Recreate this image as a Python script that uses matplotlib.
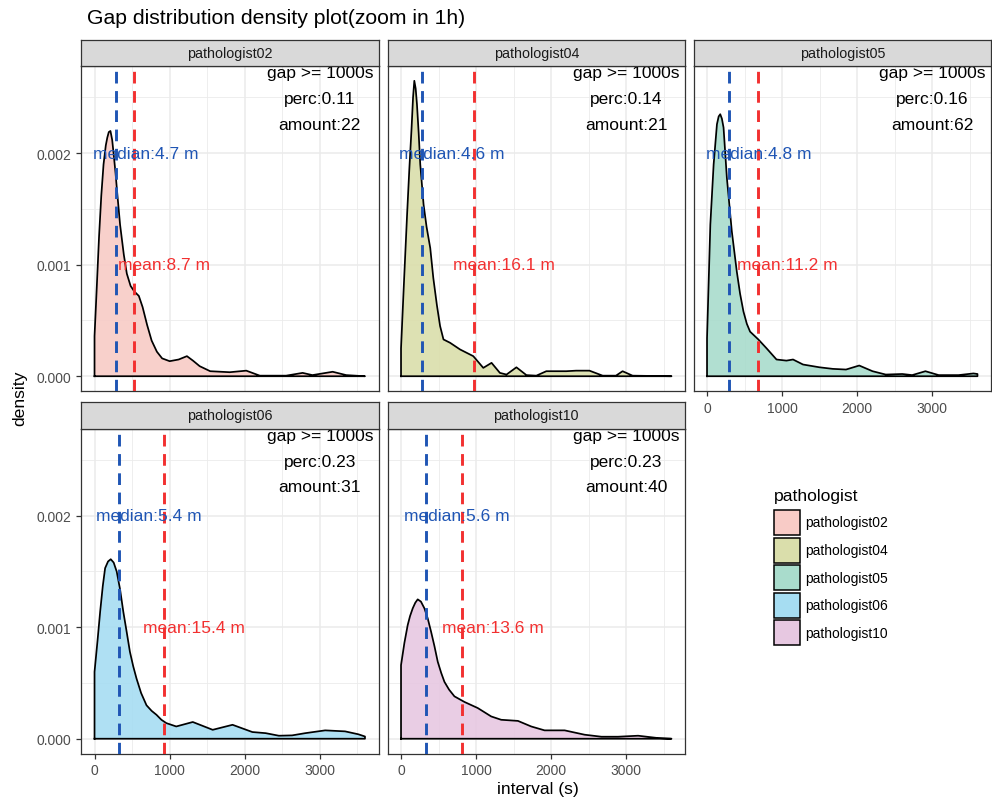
import matplotlib
matplotlib.use('Agg')
import matplotlib.pyplot as plt
from matplotlib.patches import Rectangle

plt.rcParams['font.family'] = ['Liberation Sans', 'DejaVu Sans']

# pathologists and summary stats (minutes)
names = ['pathologist02', 'pathologist04', 'pathologist05', 'pathologist06', 'pathologist10']
colors = ['#F8CBC6', '#DADEAB', '#A9DCCC', '#A6DDF2', '#E7C8E1']
median_min = [4.7, 4.6, 4.8, 5.4, 5.6]
mean_min = [8.7, 16.1, 11.2, 15.4, 13.6]
perc = [0.11, 0.14, 0.16, 0.23, 0.23]
amount = [22, 21, 62, 31, 40]

# density curves (x in s, density in 1e-3)
p02_x = [0, 30, 60, 90, 120, 150, 170, 190, 212, 235, 255, 280, 300, 340, 390, 430, 480, 530,
         590, 640, 700, 760, 830, 900, 1000, 1120, 1230, 1310, 1400, 1540, 1800, 2020, 2200,
         2550, 2770, 2900, 3170, 3350, 3600]
p02_y = [0.36, 0.80, 1.25, 1.62, 1.90, 2.07, 2.14, 2.19, 2.20, 2.12, 1.99, 1.82, 1.66, 1.36,
         1.09, 0.92, 0.81, 0.76, 0.72, 0.62, 0.46, 0.32, 0.22, 0.16, 0.135, 0.15, 0.18, 0.14,
         0.09, 0.045, 0.036, 0.05, 0.005, 0.005, 0.03, 0.01, 0.04, 0.01, 0.0]

p04_x = [0, 35, 80, 110, 140, 160, 177, 195, 212, 235, 256, 300, 340, 389, 430, 477, 520, 565,
         653, 786, 962, 1095, 1205, 1316, 1404, 1536, 1669, 1801, 1934, 2199, 2331, 2508, 2684,
         2861, 2949, 3082, 3600]
p04_y = [0.25, 0.78, 1.44, 1.85, 2.22, 2.50, 2.65, 2.58, 2.44, 2.18, 1.90, 1.54, 1.34, 1.15,
         0.88, 0.64, 0.45, 0.33, 0.30, 0.24, 0.18, 0.075, 0.12, 0.03, 0.015, 0.08, 0.01, 0.005,
         0.045, 0.045, 0.05, 0.05, 0.005, 0.005, 0.045, 0.005, 0.0]

p05_x = [0, 44, 88, 132, 155, 176, 198, 220, 264, 330, 396, 440, 485, 530, 573, 683, 793, 925,
         1057, 1145, 1278, 1498, 1674, 1850, 2026, 2203, 2379, 2599, 2731, 2907, 3084, 3348,
         3546, 3600]
p05_y = [0.34, 1.36, 1.90, 2.26, 2.33, 2.35, 2.31, 2.23, 1.78, 1.30, 0.94, 0.74, 0.58, 0.47,
         0.40, 0.33, 0.25, 0.15, 0.14, 0.15, 0.105, 0.08, 0.066, 0.06, 0.096, 0.045, 0.015,
         0.02, 0.01, 0.045, 0.01, 0.01, 0.025, 0.02]

p06_x = [0, 40, 75, 110, 141, 180, 216, 255, 295, 340, 383, 430, 471, 515, 559, 620, 692, 760,
         824, 890, 956, 1088, 1308, 1573, 1837, 2101, 2278, 2454, 2630, 2806, 3070, 3335, 3511,
         3600]
p06_y = [0.60, 0.88, 1.14, 1.37, 1.53, 1.59, 1.61, 1.58, 1.50, 1.34, 1.14, 0.95, 0.78, 0.65,
         0.54, 0.41, 0.30, 0.25, 0.215, 0.17, 0.14, 0.11, 0.15, 0.08, 0.125, 0.06, 0.05, 0.027,
         0.03, 0.05, 0.075, 0.066, 0.04, 0.02]

p10_x = [0, 45, 89, 120, 156, 190, 222, 265, 311, 355, 400, 445, 489, 535, 578, 640, 711, 844,
         1022, 1200, 1333, 1556, 1733, 1911, 2178, 2444, 2667, 2889, 3156, 3422, 3600]
p10_y = [0.66, 0.86, 1.02, 1.10, 1.17, 1.22, 1.25, 1.23, 1.17, 1.08, 0.96, 0.83, 0.69, 0.59,
         0.51, 0.44, 0.38, 0.33, 0.275, 0.20, 0.17, 0.16, 0.11, 0.075, 0.075, 0.036, 0.018,
         0.018, 0.027, 0.006, 0.0]

curves_x = [p02_x, p04_x, p05_x, p06_x, p10_x]
curves_y = [p02_y, p04_y, p05_y, p06_y, p10_y]

median_col = '#1F55B4'
mean_col = '#F23030'

W, H = 992, 803
fig = plt.figure(figsize=(W / 100, H / 100), dpi=100)


def px_axes(l, t, w, h):
    return fig.add_axes([l / W, 1 - (t + h) / H, w / W, h / H])


col_left = [81, 387.5, 693.5]
pw = 297.5
strip_top = [40.5, 403]
strip_h = 26.5
ph = 325

for i, name in enumerate(names):
    r, c = divmod(i, 3)
    ax = px_axes(col_left[c], strip_top[r] + strip_h, pw, ph)
    st = px_axes(col_left[c], strip_top[r], pw, strip_h)

    xs = curves_x[i]
    ys = [v * 1e-3 for v in curves_y[i]]
    ax.fill([xs[0]] + xs + [xs[-1]], [0] + ys + [0], facecolor=colors[i], alpha=0.9,
            edgecolor='none', zorder=2)
    ax.plot([xs[0]] + xs + [xs[-1], xs[0]], [0] + ys + [0, 0], color='black', lw=1.25,
            zorder=3, solid_joinstyle='round')

    med = median_min[i] * 60
    mn = mean_min[i] * 60
    ax.axvline(med, color=median_col, lw=2.1, ls=(0, (4, 2.6)), zorder=4)
    ax.axvline(mn, color=mean_col, lw=2.1, ls=(0, (4, 2.6)), zorder=4)
    ax.text(med + 400, 0.002, 'median:%.1f m' % median_min[i], color=median_col,
            ha='center', va='center', fontsize=12.5, zorder=5)
    ax.text(mn + 400, 0.001, 'mean:%.1f m' % mean_min[i], color=mean_col,
            ha='center', va='center', fontsize=12.5, zorder=5)
    ax.text(3000, 0.00272, 'gap >= 1000s', ha='center', va='center', fontsize=12.5, zorder=5)
    ax.text(3000, 0.00249, 'perc:%.2f' % perc[i], ha='center', va='center', fontsize=12.5, zorder=5)
    ax.text(3000, 0.00226, 'amount:%d' % amount[i], ha='center', va='center', fontsize=12.5, zorder=5)

    ax.set_xlim(-180, 3780)
    ax.set_ylim(-0.0001325, 0.0027825)
    ax.set_xticks([0, 1000, 2000, 3000])
    ax.set_xticks([500, 1500, 2500, 3500], minor=True)
    ax.set_yticks([0, 0.001, 0.002])
    ax.set_yticklabels(['0.000', '0.001', '0.002'])
    ax.set_yticks([0.0005, 0.0015, 0.0025], minor=True)
    ax.grid(which='major', color='#EBEBEB', lw=1.1)
    ax.grid(which='minor', color='#EBEBEB', lw=0.6)
    ax.set_axisbelow(True)
    for s in ax.spines.values():
        s.set_color('#333333')
        s.set_linewidth(0.9)
    ax.tick_params(which='major', direction='out', length=3.5, width=0.9, color='#333333',
                   labelcolor='#4D4D4D', labelsize=10)
    ax.tick_params(which='minor', length=0)
    show_y = c == 0
    show_x = r == 1 or c == 2
    ax.tick_params(left=show_y, labelleft=show_y, bottom=show_x, labelbottom=show_x)

    st.set_facecolor('#D9D9D9')
    st.set_xticks([])
    st.set_yticks([])
    for s in st.spines.values():
        s.set_color('#333333')
        s.set_linewidth(0.9)
    st.text(0.5, 0.5, name, ha='center', va='center', fontsize=10.3, color='#1A1A1A',
            transform=st.transAxes)

fig.text(87 / W, 1 - 19 / H, 'Gap distribution density plot(zoom in 1h)', fontsize=15.2,
         ha='left', va='center')
fig.text(20 / W, 1 - 398 / H, 'density', rotation=90, fontsize=12.6, ha='center', va='center')
fig.text(538 / W, 1 - 790 / H, 'interval (s)', fontsize=12.6, ha='center', va='center')

# legend
lg = fig.add_axes([0, 0, 1, 1])
lg.set_xlim(0, W)
lg.set_ylim(H, 0)
lg.axis('off')
lg.text(774, 497, 'pathologist', fontsize=12.6, ha='left', va='center')
for j, name in enumerate(names):
    y0 = 511 + j * 27.6
    lg.add_patch(Rectangle((774, y0), 26, 25, facecolor=colors[j], edgecolor='black', lw=1.1))
    lg.text(805, y0 + 12.5, name, fontsize=10, ha='left', va='center')

fig.savefig('out.png', dpi=100)
